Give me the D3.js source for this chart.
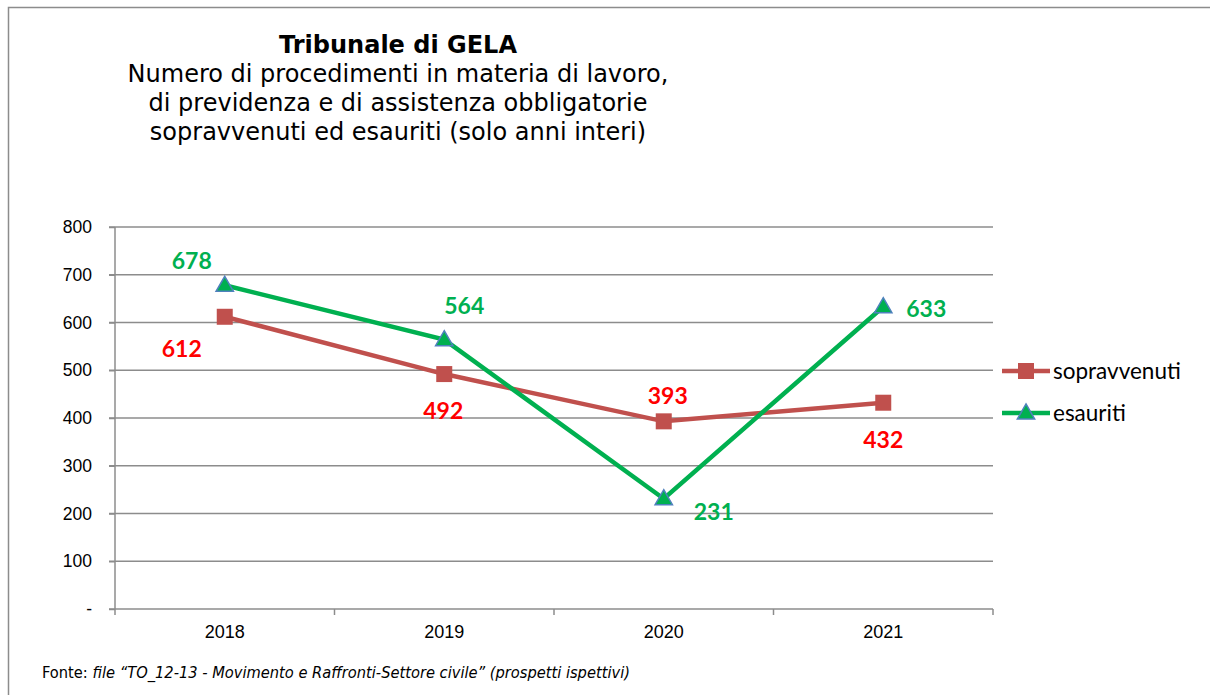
<!DOCTYPE html>
<html>

<head>
  <meta charset="UTF-8" />
  <script src="https://d3js.org/d3.v7.min.js"></script>
  <style>
    body { margin: 0; background: #fff; }
  </style>
</head>

<body>
  <script>

    // data
    var years = ["2018", "2019", "2020", "2021"];
    var sopravvenuti = [612, 492, 393, 432];
    var esauriti = [678, 564, 231, 633];
    var yTicks = [0, 100, 200, 300, 400, 500, 600, 700, 800];

    // where each value label sits relative to its point (dx, dy)
    var labelSop = [[-43, 34], [-1, 39], [4, -23], [0, 39]];
    var labelEsa = [[-33, -22], [20, -32], [50, 15], [43, 4]];

    var W = 1210, H = 695;
    var margin = { top: 227, right: 217, bottom: 86, left: 115 };
    var width = W - margin.left - margin.right,
      height = H - margin.top - margin.bottom;

    var svg = d3.select("body").append("svg")
      .attr("width", W)
      .attr("height", H);

    // outer frame (top + left visible)
    svg.append("path")
      .attr("d", "M 8.5 " + H + " L 8.5 7.5 L " + W + " 7.5")
      .attr("fill", "none")
      .attr("stroke", "#8c8c8c")
      .attr("stroke-width", 1.5);

    // title
    var title = svg.append("text")
      .attr("text-anchor", "middle")
      .style("font-family", "'DejaVu Sans', Verdana, sans-serif")
      .style("fill", "#000");
    title.append("tspan").attr("x", 398).attr("y", 53)
      .style("font-weight", "bold").style("font-size", "24px")
      .text("Tribunale di GELA");
    ["Numero di procedimenti in materia di lavoro,",
      "di previdenza e di assistenza obbligatorie",
      "sopravvenuti ed esauriti (solo anni interi)"].forEach(function (t, i) {
        title.append("tspan").attr("x", 398).attr("y", 82 + i * 29)
          .style("font-size", "24px")
          .text(t);
      });

    var g = svg.append("g")
      .attr("transform", "translate(" + margin.left + "," + margin.top + ")");

    var x = d3.scaleBand().domain(years).range([0, width]);
    var y = d3.scaleLinear().domain([0, 800]).range([height, 0]);

    // gridlines
    g.selectAll("line.grid")
      .data(yTicks.slice(1))
      .enter().append("line")
      .attr("class", "grid")
      .attr("x1", -6).attr("x2", width)
      .attr("y1", function (d) { return y(d); })
      .attr("y2", function (d) { return y(d); })
      .attr("stroke", "#8c8c8c")
      .attr("stroke-width", 1.5);

    // y axis
    var yAxis = d3.axisLeft(y).tickValues(yTicks).tickSize(6).tickPadding(17)
      .tickFormat(function (d) { return d === 0 ? "-" : d; });
    var ya = g.append("g").call(yAxis);
    ya.select(".domain").attr("stroke", "#8c8c8c").attr("stroke-width", 1.5)
      .attr("d", "M0," + height + "V0");
    ya.selectAll(".tick line").attr("stroke", "#8c8c8c").attr("stroke-width", 1.5);
    ya.selectAll(".tick text")
      .style("font-family", "'Liberation Sans', Arial, sans-serif")
      .style("font-size", "17.5px").style("fill", "#000");

    // x axis with ticks at band edges
    var xa = g.append("g").attr("transform", "translate(0," + height + ")");
    xa.append("line").attr("x1", -6).attr("x2", width)
      .attr("stroke", "#8c8c8c").attr("stroke-width", 1.5);
    var edges = years.map(function (d) { return x(d); }).concat([width]);
    xa.selectAll("line.tk").data(edges).enter().append("line")
      .attr("class", "tk")
      .attr("x1", function (d) { return d; }).attr("x2", function (d) { return d; })
      .attr("y1", 0).attr("y2", 6)
      .attr("stroke", "#8c8c8c").attr("stroke-width", 1.5);
    xa.selectAll("text").data(years).enter().append("text")
      .attr("x", function (d) { return x(d) + x.bandwidth() / 2; })
      .attr("y", 29)
      .attr("text-anchor", "middle")
      .style("font-family", "'Liberation Sans', Arial, sans-serif")
      .style("font-size", "18px")
      .text(function (d) { return d; });

    var cx = function (d, i) { return x(years[i]) + x.bandwidth() / 2; };
    var line = d3.line().x(cx).y(function (d) { return y(d); });

    var redLine = "#c0504d", greenLine = "#00b050", blueEdge = "#4f81bd";

    g.append("path").datum(sopravvenuti)
      .attr("d", line).attr("fill", "none")
      .attr("stroke", redLine).attr("stroke-width", 4.5);

    g.append("path").datum(esauriti)
      .attr("d", line).attr("fill", "none")
      .attr("stroke", greenLine).attr("stroke-width", 4.5);

    // markers
    g.selectAll("rect.sq").data(sopravvenuti).enter().append("rect")
      .attr("class", "sq")
      .attr("x", function (d, i) { return cx(d, i) - 8; })
      .attr("y", function (d) { return y(d) - 8; })
      .attr("width", 16).attr("height", 16)
      .attr("fill", redLine);

    var tri = d3.symbol().type(d3.symbolTriangle).size(130);
    g.selectAll("path.tri").data(esauriti).enter().append("path")
      .attr("class", "tri")
      .attr("transform", function (d, i) { return "translate(" + cx(d, i) + "," + (y(d) + 1) + ")"; })
      .attr("d", tri)
      .attr("fill", greenLine)
      .attr("stroke", blueEdge).attr("stroke-width", 1.5);

    // value labels
    var labelFont = "Lato, 'Open Sans', sans-serif";
    g.selectAll("text.ls").data(sopravvenuti).enter().append("text")
      .attr("class", "ls")
      .attr("x", function (d, i) { return cx(d, i) + labelSop[i][0]; })
      .attr("y", function (d, i) { return y(d) + labelSop[i][1]; })
      .attr("text-anchor", "middle")
      .attr("dominant-baseline", "middle")
      .style("font-family", labelFont).style("font-weight", "bold")
      .style("font-size", "23px").style("fill", "#ff0000")
      .text(function (d) { return d; });

    g.selectAll("text.le").data(esauriti).enter().append("text")
      .attr("class", "le")
      .attr("x", function (d, i) { return cx(d, i) + labelEsa[i][0]; })
      .attr("y", function (d, i) { return y(d) + labelEsa[i][1]; })
      .attr("text-anchor", "middle")
      .attr("dominant-baseline", "middle")
      .style("font-family", labelFont).style("font-weight", "bold")
      .style("font-size", "23px").style("fill", greenLine)
      .text(function (d) { return d; });

    // legend
    var legend = svg.append("g").attr("transform", "translate(1002,0)");
    var leg = legend.selectAll("g").data(["sopravvenuti", "esauriti"]).enter().append("g")
      .attr("transform", function (d, i) { return "translate(0," + (371 + i * 42) + ")"; });
    leg.append("line").attr("x1", 0).attr("x2", 48)
      .attr("stroke", function (d, i) { return i === 0 ? redLine : greenLine; })
      .attr("stroke-width", 4.5);
    leg.filter(function (d, i) { return i === 0; }).append("rect")
      .attr("x", 16).attr("y", -8).attr("width", 16).attr("height", 16)
      .attr("fill", redLine);
    leg.filter(function (d, i) { return i === 1; }).append("path")
      .attr("transform", "translate(24,1)")
      .attr("d", tri).attr("fill", greenLine)
      .attr("stroke", blueEdge).attr("stroke-width", 1.5);
    leg.append("text").attr("x", 51).attr("dy", "0.35em")
      .style("font-family", labelFont).style("font-size", "22.5px")
      .text(function (d) { return d; });

    // source note
    var note = svg.append("text").attr("x", 42).attr("y", 678)
      .style("font-family", "'DejaVu Sans Condensed', 'DejaVu Sans', sans-serif")
      .style("font-size", "16.3px");
    note.append("tspan").text("Fonte: ");
    note.append("tspan").style("font-style", "italic")
      .text("file \u201cTO_12-13 - Movimento e Raffronti-Settore civile\u201d (prospetti ispettivi)");

  </script>
</body>

</html>
